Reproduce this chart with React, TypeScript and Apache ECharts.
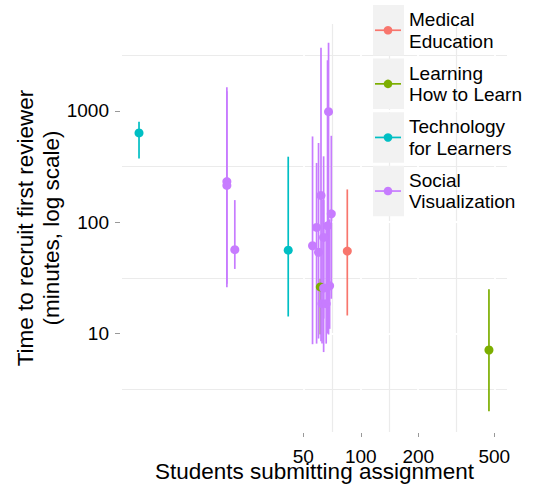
import React, { useEffect, useRef } from "react";
import * as echarts from "echarts";

const seriesNames = ["Medical Education", "Learning How to Learn", "Technology for Learners", "Social Visualization"];
const legendLabels = ["Medical\nEducation", "Learning\nHow to Learn", "Technology\nfor Learners", "Social\nVisualization"];
const seriesColors = ["#F8766D", "#7CAE00", "#00BFC4", "#C77CFF"];

const medicalStudents = [85];
const medicalMinutes = [55];
const medicalLow = [14.5];
const medicalHigh = [197];

const learningStudents = [469, 61.4];
const learningMinutes = [7.1, 26.2];
const learningLow = [2.0, 9.8];
const learningHigh = [24.9, 31];

const technologyStudents = [6.9, 41.7];
const technologyMinutes = [634, 56];
const technologyLow = [373, 14.2];
const technologyHigh = [798, 388];

const socialStudents = [19.9, 19.9, 21.9, 55.9, 58.7, 60.1, 61.9, 63.9, 67.0, 70.1, 67.8, 63.9, 68.7, 62.7, 65.9];
const socialMinutes = [232, 214, 56.6, 61.4, 89.7, 53.7, 174, 73, 92.7, 119, 986, 25.6, 26.8, 18.5, 18.5];
const socialLow = [26, 28, 38, 8.0, 8.1, 9.0, 8.5, 6.8, 10, 20.5, 9.8, 13.6, 11, 8.1, 8.1];
const socialHigh = [1637, 1500, 158, 590, 341, 515, 3704, 391, 2853, 598, 4105, 158, 106, 160, 87];

const xTickLabels = [50, 100, 200, 500];
const yTickLabels = [10, 100, 1000];
const xLimits = [5.62, 583];
const yLimits = [1.3, 6050];

const FONT = '"Liberation Sans", Arial, Helvetica, sans-serif';
const lg = Math.log10;

const groups = [
  { students: medicalStudents, minutes: medicalMinutes, low: medicalLow, high: medicalHigh },
  { students: learningStudents, minutes: learningMinutes, low: learningLow, high: learningHigh },
  { students: technologyStudents, minutes: technologyMinutes, low: technologyLow, high: technologyHigh },
  { students: socialStudents, minutes: socialMinutes, low: socialLow, high: socialHigh },
];

function midpoints(vals: number[]): number[] {
  const out: number[] = [];
  for (let i = 0; i < vals.length - 1; i++) out.push((vals[i] + vals[i + 1]) / 2);
  return out;
}

export default function App() {
  const ref = useRef<HTMLDivElement>(null);
  useEffect(() => {
    if (!ref.current) return;
    const chart = echarts.init(ref.current, null, { renderer: "svg" });

    const xMajor = xTickLabels.map(lg);
    const yMajor = yTickLabels.map(lg);
    const xMinor = midpoints(xMajor);
    const yStep = yMajor[1] - yMajor[0];
    const yMinor = [yMajor[0] - yStep / 2, ...midpoints(yMajor), yMajor[yMajor.length - 1] + yStep / 2];

    const gridSeries = (name: string, xs: number[], ys: number[], color: string, width: number, z: number) => ({
      type: "line",
      name,
      data: [],
      silent: true,
      z,
      markLine: {
        silent: true,
        z,
        symbol: ["none", "none"],
        label: { show: false },
        emphasis: { disabled: true },
        lineStyle: { color, width, type: "solid" },
        data: [...xs.map((v) => ({ xAxis: v })), ...ys.map((v) => ({ yAxis: v }))],
      },
    });

    const barSeries = groups.map((g, gi) => ({
      type: "custom",
      name: seriesNames[gi] + " range",
      z: 3,
      silent: true,
      data: g.students.map((s, i) => [lg(s), lg(g.low[i]), lg(g.high[i])]),
      encode: { x: 0, y: [1, 2] },
      renderItem: (_params: any, api: any) => {
        const p1 = api.coord([api.value(0), api.value(1)]);
        const p2 = api.coord([api.value(0), api.value(2)]);
        return {
          type: "line",
          shape: { x1: p1[0], y1: p1[1], x2: p2[0], y2: p2[1] },
          style: { stroke: seriesColors[gi], lineWidth: 1.7 },
        };
      },
    }));

    const pointSeries = groups.map((g, gi) => ({
      type: "scatter",
      name: seriesNames[gi],
      z: 4,
      symbol: "circle",
      symbolSize: 9,
      itemStyle: { color: seriesColors[gi], opacity: 1 },
      data: g.students.map((s, i) => [lg(s), lg(g.minutes[i])]),
    }));

    const keyTop = 5;
    const keyStep = 53.6;
    const keyH = 50.5;
    const legendGraphics: any[] = [];
    seriesNames.forEach((_n, i) => {
      const y0 = keyTop + i * keyStep;
      const cy = y0 + keyH / 2;
      legendGraphics.push(
        { type: "rect", z: 100, shape: { x: 373, y: y0, width: 31, height: keyH }, style: { fill: "#F2F2F2" } },
        { type: "line", z: 101, shape: { x1: 375, y1: cy, x2: 401, y2: cy }, style: { stroke: seriesColors[i], lineWidth: 1.7 } },
        { type: "circle", z: 102, shape: { cx: 388, cy, r: 4.3 }, style: { fill: seriesColors[i] } },
        {
          type: "text",
          z: 101,
          x: 409,
          y: cy,
          style: {
            text: legendLabels[i],
            fontSize: 19,
            fontFamily: FONT,
            lineHeight: 21.5,
            fill: "#000",
            align: "left",
            verticalAlign: "middle",
          },
        }
      );
    });

    const option: any = {
      animation: false,
      backgroundColor: "#fff",
      grid: { left: 122, right: 28, top: 24, bottom: 52, containLabel: false, outerBoundsMode: "none" },
      xAxis: {
        type: "value",
        min: lg(xLimits[0]),
        max: lg(xLimits[1]),
        offset: 1,
        axisLine: { show: false },
        splitLine: { show: false },
        axisTick: { show: true, customValues: xMajor, length: 4, lineStyle: { color: "#999", width: 1 } },
        axisLabel: {
          customValues: xMajor,
          formatter: (v: number) => String(Math.round(Math.pow(10, v))),
          fontSize: 19,
          lineHeight: 14,
          fontFamily: FONT,
          color: "#000",
          margin: 16.5,
        },
        name: "Students submitting assignment",
        nameLocation: "middle",
        nameGap: 30,
        nameMoveOverlap: false,
        nameTextStyle: { fontSize: 22.5, lineHeight: 16, fontFamily: FONT, color: "#000" },
      },
      yAxis: {
        type: "value",
        min: lg(yLimits[0]),
        max: lg(yLimits[1]),
        offset: 2,
        axisLine: { show: false },
        splitLine: { show: false },
        axisTick: { show: true, customValues: yMajor, length: 5, lineStyle: { color: "#999", width: 1 } },
        axisLabel: {
          customValues: yMajor,
          formatter: (v: number) => String(Math.round(Math.pow(10, v))),
          fontSize: 19,
          lineHeight: 19,
          fontFamily: FONT,
          color: "#000",
          margin: 11,
        },
        name: "Time to recruit first reviewer\n(minutes, log scale)",
        nameLocation: "middle",
        nameRotate: 90,
        nameGap: 56,
        nameMoveOverlap: false,
        nameTextStyle: { fontSize: 22.5, lineHeight: 26, fontFamily: FONT, color: "#000", align: "center" },
      },
      series: [
        gridSeries("minor grid", xMinor, yMinor, "#EBEBEB", 1.2, 0),
        gridSeries("major grid", xMajor, yMajor, "#FFFFFF", 1.8, 1),
        ...barSeries,
        ...pointSeries,
      ],
      graphic: legendGraphics,
    };

    chart.setOption(option);
    return () => chart.dispose();
  }, []);

  return <div ref={ref} style={{ position: "fixed", left: 0, top: 0, width: 535, height: 484 }} />;
}
